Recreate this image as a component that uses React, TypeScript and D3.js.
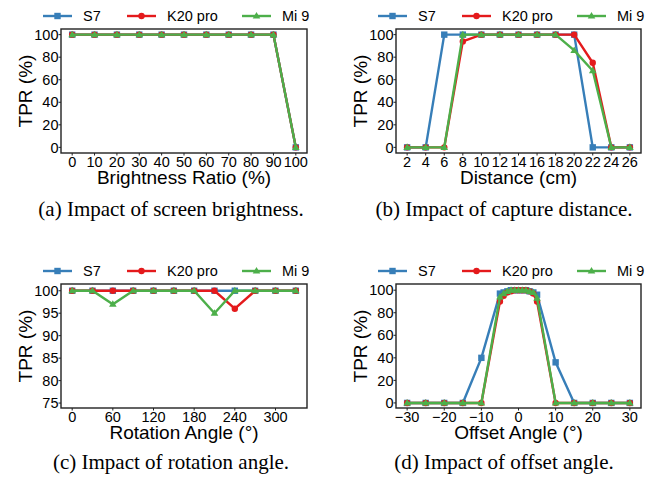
import React from 'react'
import { scaleLinear, line } from 'd3'

// series names / colours
const names = ['S7', 'K20 pro', 'Mi 9']
const colors = ['#377eb8', '#e41a1c', '#4daf4a']
const markers = ['square', 'circle', 'triangle']

// (a) brightness
const brightX = [0, 10, 20, 30, 40, 50, 60, 70, 80, 90, 100]
const brightS7 = [100, 100, 100, 100, 100, 100, 100, 100, 100, 100, 0]
const brightK20 = [100, 100, 100, 100, 100, 100, 100, 100, 100, 100, 0]
const brightMi9 = [100, 100, 100, 100, 100, 100, 100, 100, 100, 100, 0]

// (b) distance
const distX = [2, 4, 6, 8, 10, 12, 14, 16, 18, 20, 22, 24, 26]
const distS7 = [0, 0, 100, 100, 100, 100, 100, 100, 100, 100, 0, 0, 0]
const distK20 = [0, 0, 0, 94, 100, 100, 100, 100, 100, 100, 75, 0, 0]
const distMi9 = [0, 0, 0, 100, 100, 100, 100, 100, 100, 86, 68, 0, 0]

// (c) rotation
const rotX = [0, 30, 60, 90, 120, 150, 180, 210, 240, 270, 300, 330]
const rotS7 = [100, 100, 100, 100, 100, 100, 100, 100, 100, 100, 100, 100]
const rotK20 = [100, 100, 100, 100, 100, 100, 100, 100, 96, 100, 100, 100]
const rotMi9 = [100, 100, 97, 100, 100, 100, 100, 95, 100, 100, 100, 100]

// (d) offset
const offX = [-30, -25, -20, -15, -10, -5, -4, -3, -2, -1, 0, 1, 2, 3, 4, 5, 10, 15, 20, 25, 30]
const offS7 = [0, 0, 0, 0, 40, 97, 98, 99, 100, 100, 100, 100, 100, 99, 98, 96, 36, 0, 0, 0, 0]
const offK20 = [0, 0, 0, 0, 0, 90, 95, 98, 99, 100, 100, 100, 100, 99, 97, 90, 0, 0, 0, 0, 0]
const offMi9 = [0, 0, 0, 0, 0, 94, 97, 99, 100, 100, 100, 100, 100, 99, 98, 93, 0, 0, 0, 0, 0]

// ticks
const tprTicks = [0, 20, 40, 60, 80, 100]
const rotYTicks = [75, 80, 85, 90, 95, 100]
const rotTicks = [0, 60, 120, 180, 240, 300]
const offTicks = [-30, -20, -10, 0, 10, 20, 30]

const sans = '"Liberation Sans", Arial, Helvetica, sans-serif'
const serif = '"Liberation Serif", "Times New Roman", Times, serif'

const Marker = ({ kind, x, y, color }) => {
    if (kind === 'square') return <rect x={x - 3.2} y={y - 3.2} width={6.4} height={6.4} fill={color} />
    if (kind === 'circle') return <circle cx={x} cy={y} r={3.2} fill={color} />
    return <path d={`M${x},${y - 4}L${x + 3.8},${y + 2.6}L${x - 3.8},${y + 2.6}Z`} fill={color} />
}

const fmt = v => String(v).replace('-', '\u2212')

const Panel = ({ left, top, width, height, xDomain, yDomain, xTicks, yTicks, xLabel, xs, ys, caption, captionX, captionY }) => {
    const x = scaleLinear().domain(xDomain).range([left, left + width])
    const y = scaleLinear().domain(yDomain).range([top + height, top])
    const path = line().x(d => x(d[0])).y(d => y(d[1]))
    const legY = top - 13

    return (
        <g>
            {/* legend */}
            {names.map((n, i) => {
                const lx = left + [-18, 66, 181][i]
                return (
                    <g key={n}>
                        <line x1={lx} x2={lx + 29} y1={legY} y2={legY} stroke={colors[i]} strokeWidth={2.4} />
                        <Marker kind={markers[i]} x={lx + 14.5} y={legY} color={colors[i]} />
                        <text x={lx + 40} y={legY + 5} fontSize={14.5} fontFamily={sans}>{n}</text>
                    </g>
                )
            })}

            {/* series */}
            {ys.map((s, i) => {
                const pts = xs.map((v, j) => [v, s[j]])
                return (
                    <g key={i}>
                        <path d={path(pts)} fill="none" stroke={colors[i]} strokeWidth={2.4} />
                        {pts.map((p, j) => <Marker key={j} kind={markers[i]} x={x(p[0])} y={y(p[1])} color={colors[i]} />)}
                    </g>
                )
            })}

            <rect x={left} y={top} width={width} height={height} fill="none" stroke="#222" strokeWidth={1.4} />

            {/* y axis */}
            {yTicks.map(t => (
                <g key={t}>
                    <line x1={left - 2.5} x2={left} y1={y(t)} y2={y(t)} stroke="#222" />
                    <text x={left - 2.5} y={y(t) + 5.2} fontSize={14.5} fontFamily={sans} textAnchor="end">{fmt(t)}</text>
                </g>
            ))}
            {/* x axis */}
            {xTicks.map(t => (
                <g key={t}>
                    <line x1={x(t)} x2={x(t)} y1={top + height} y2={top + height + 2.5} stroke="#222" />
                    <text x={x(t)} y={top + height + 13.5} fontSize={14.5} fontFamily={sans} textAnchor="middle">{fmt(t)}</text>
                </g>
            ))}

            <text x={left + width / 2} y={top + height + 31} fontSize={19} fontFamily={sans} textAnchor="middle">{xLabel}</text>
            <text transform={`translate(${left - 29.5},${top + height / 2}) rotate(-90)`} fontSize={19} fontFamily={sans} textAnchor="middle">TPR (%)</text>

            <text x={captionX} y={captionY} fontSize={21} fontFamily={serif} textAnchor="middle">{caption}</text>
        </g>
    )
}

export default function App() {
    return (
        <svg width={652} height={478} style={{ position: 'absolute', left: 0, top: 0, background: '#fff' }}>
            <Panel left={61} top={29} width={246} height={124} xDomain={[-5, 105]} yDomain={[-5, 105]}
                xTicks={brightX} yTicks={tprTicks} xLabel="Brightness Ratio (%)"
                xs={brightX} ys={[brightS7, brightK20, brightMi9]}
                caption="(a) Impact of screen brightness." captionX={171} captionY={216} />
            <Panel left={396} top={29} width={245} height={124} xDomain={[0.8, 27.2]} yDomain={[-5, 105]}
                xTicks={distX} yTicks={tprTicks} xLabel="Distance (cm)"
                xs={distX} ys={[distS7, distK20, distMi9]}
                caption="(b) Impact of capture distance." captionX={504} captionY={216} />
            <Panel left={61} top={284} width={246} height={124} xDomain={[-16.5, 346.5]} yDomain={[73.9, 101.5]}
                xTicks={rotTicks} yTicks={rotYTicks} xLabel="Rotation Angle (°)"
                xs={rotX} ys={[rotS7, rotK20, rotMi9]}
                caption="(c) Impact of rotation angle." captionX={171} captionY={469} />
            <Panel left={396} top={284} width={245} height={124} xDomain={[-33, 33]} yDomain={[-4.5, 105.5]}
                xTicks={offTicks} yTicks={tprTicks} xLabel="Offset Angle (°)"
                xs={offX} ys={[offS7, offK20, offMi9]}
                caption="(d) Impact of offset angle." captionX={504} captionY={469} />
        </svg>
    )
}
